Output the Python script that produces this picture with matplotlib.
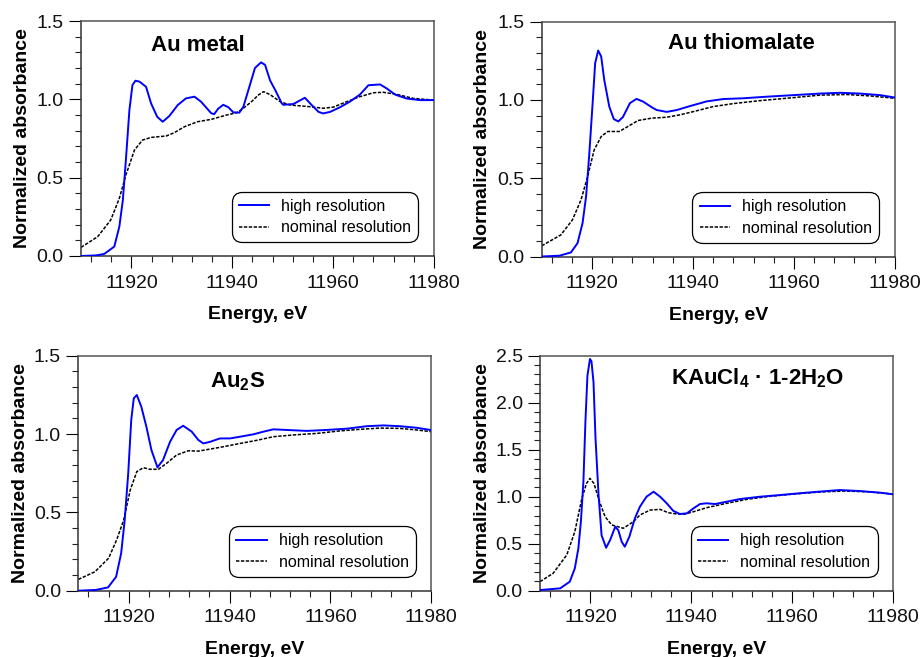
import matplotlib
matplotlib.use("Agg")
import matplotlib.pyplot as plt
from matplotlib.ticker import MultipleLocator

plt.rcParams['font.family'] = ['Liberation Sans', 'DejaVu Sans']
plt.rcParams['mathtext.fontset'] = 'custom'
plt.rcParams['mathtext.rm'] = 'Liberation Sans'
plt.rcParams['mathtext.bf'] = 'Liberation Sans:bold'
plt.rcParams['mathtext.it'] = 'Liberation Sans:italic'

# ---------------- data ----------------
titles = ["Au metal", "Au thiomalate", r"Au$_\mathbf{2}$S", r"KAuCl$_\mathbf{4}$ · 1-2H$_\mathbf{2}$O"]
legend_labels = ["high resolution", "nominal resolution"]
x_label = "Energy, eV"
y_label = "Normalized absorbance"

# Au metal
metal_hi_E = [11910, 11913.0, 11914.6, 11916.6, 11917.6, 11918.3, 11918.9, 11919.6, 11920.2, 11920.8,
              11921.6, 11922.9, 11923.9, 11925.1, 11926.2, 11927.5, 11929.2, 11930.8, 11932.5, 11933.8,
              11935.8, 11936.4, 11937.2, 11938.2, 11939.2, 11940.2, 11941.4, 11942.2,
              11943.2, 11944.5, 11945.7, 11946.5, 11947.5, 11948.5, 11949.8, 11950.1, 11952.1, 11954.4,
              11955.7, 11957.1, 11958.0, 11959.4, 11961.4, 11963.3, 11965.3, 11967.0, 11969.3, 11970.6,
              11972.3, 11974.6, 11977.2, 11980]
metal_hi_mu = [0.0, 0.004, 0.013, 0.06, 0.187, 0.357, 0.613, 0.932, 1.091, 1.119,
               1.113, 1.08, 0.974, 0.889, 0.857, 0.893, 0.964, 1.006, 1.017, 0.985,
               0.912, 0.905, 0.94, 0.965, 0.95, 0.917, 0.915, 0.953,
               1.06, 1.20, 1.236, 1.22, 1.12, 1.06, 0.975, 0.965, 0.97, 1.01,
               0.965, 0.92, 0.91, 0.92, 0.95, 0.985, 1.03, 1.09, 1.095, 1.07,
               1.03, 1.005, 0.995, 0.995]
metal_nom_E = [11910, 11913.3, 11915.9, 11917.6, 11918.9, 11920.6, 11922.2, 11923.9, 11926.9, 11928.5,
               11930.5, 11933.1, 11935.8, 11938.9,
               11940.9, 11942.2, 11943.8, 11945.2, 11946.2, 11947.5, 11949.5, 11951.4, 11955.4, 11958.0,
               11960.0, 11962.7, 11965.3, 11968.0, 11969.9, 11972.6, 11975.9, 11980]
metal_nom_mu = [0.055, 0.123, 0.23, 0.368, 0.517, 0.676, 0.74, 0.757, 0.766, 0.787,
                0.825, 0.857, 0.872, 0.90,
                0.915, 0.943, 0.985, 1.028, 1.049, 1.03, 0.985, 0.964, 0.953, 0.943,
                0.95, 0.985, 1.017, 1.042, 1.045, 1.032, 1.006, 0.995]

# Au thiomalate
thio_hi_E = [11910, 11913.5, 11915.8, 11917.1, 11918.1, 11918.8, 11919.4, 11920.1, 11920.6, 11921.2,
             11921.8, 11922.4, 11923.4, 11924.3, 11925.2, 11926.1, 11927.5, 11928.8, 11930.1, 11931.8,
             11932.8, 11934.8, 11936.8, 11939.4, 11942.7, 11946.0, 11950.0, 11954.6, 11959.9,
             11965.2, 11969.2, 11973.1, 11977.1, 11980]
thio_hi_mu = [0.0, 0.005, 0.026, 0.085, 0.213, 0.383, 0.638, 0.979, 1.234, 1.315,
              1.276, 1.128, 0.957, 0.877, 0.862, 0.89, 0.979, 1.006, 0.989, 0.953,
              0.935, 0.923, 0.935, 0.96, 0.99, 1.005, 1.01, 1.02, 1.03,
              1.04, 1.045, 1.04, 1.03, 1.015]
thio_nom_E = [11910, 11913.8, 11916.1, 11917.8, 11919.1, 11920.4, 11921.8, 11923.1, 11925.4, 11927.1,
              11929.1, 11931.8, 11934.8, 11937.4, 11940.1,
              11944.0, 11948.0, 11953.3, 11959.9, 11965.2, 11970.5, 11975.1, 11980]
thio_nom_mu = [0.068, 0.138, 0.234, 0.362, 0.51, 0.68, 0.766, 0.798, 0.798, 0.83,
               0.868, 0.883, 0.889, 0.904, 0.925,
               0.957, 0.976, 0.995, 1.014, 1.03, 1.034, 1.025, 1.01]

# Au2S
au2s_hi_E = [11910, 11913.5, 11915.9, 11917.5, 11918.5, 11919.2, 11919.9, 11920.5, 11921.0, 11921.6,
             11922.5, 11923.5, 11924.5, 11925.7, 11926.8, 11928.2, 11929.5, 11930.8, 11932.5, 11933.8,
             11934.8, 11936.1, 11938.1, 11940.1, 11942.1, 11944.7, 11946.7, 11948.7, 11951.3,
             11955.3, 11959.2, 11963.2, 11967.2, 11970.5, 11973.8, 11977.1, 11980]
au2s_hi_mu = [0.0, 0.005, 0.021, 0.089, 0.239, 0.451, 0.749, 1.09, 1.228, 1.249,
              1.174, 1.047, 0.898, 0.787, 0.834, 0.951, 1.026, 1.053, 1.015, 0.962,
              0.94, 0.95, 0.972, 0.972, 0.983, 0.998, 1.015, 1.03, 1.026,
              1.02, 1.026, 1.034, 1.05, 1.055, 1.05, 1.04, 1.025]
au2s_nom_E = [11910, 11913.3, 11916.0, 11917.6, 11919.0, 11920.3, 11921.6, 11922.9, 11924.2, 11925.9,
              11927.5, 11929.5, 11931.8, 11933.8, 11938.1, 11942.1,
              11945.4, 11948.7, 11952.6, 11957.3, 11961.9, 11965.8, 11969.8, 11973.8, 11977.1, 11980]
au2s_nom_mu = [0.072, 0.121, 0.207, 0.324, 0.451, 0.643, 0.76, 0.785, 0.775, 0.775,
               0.813, 0.866, 0.893, 0.891, 0.915, 0.94,
               0.96, 0.983, 0.994, 1.004, 1.02, 1.03, 1.038, 1.036, 1.026, 1.015]

# KAuCl4 . 1-2H2O
kau_hi_E = [11910, 11914.0, 11915.9, 11916.9, 11917.6, 11918.1, 11918.6, 11919.0, 11919.4, 11919.9,
            11920.2, 11920.6, 11921.0, 11921.6, 11922.2, 11923.1, 11923.9, 11924.9, 11925.5, 11926.2,
            11926.8, 11927.7, 11928.8, 11929.8, 11931.1, 11932.5, 11933.8, 11935.1, 11936.4, 11937.7,
            11939.1, 11940.4, 11941.7, 11943.0, 11944.7, 11947.0, 11949.6, 11953.6, 11957.6, 11962.8,
            11966.8, 11969.4, 11973.4, 11977.4, 11980]
kau_hi_mu = [0.007, 0.025, 0.096, 0.238, 0.45, 0.734, 1.16, 1.80, 2.29, 2.465,
             2.44, 2.22, 1.62, 1.02, 0.59, 0.457, 0.54, 0.68, 0.645, 0.52,
             0.468, 0.574, 0.77, 0.894, 1.0, 1.053, 1.0, 0.93, 0.85, 0.816,
             0.823, 0.876, 0.922, 0.93, 0.922, 0.947, 0.975, 1.0, 1.018, 1.043,
             1.06, 1.071, 1.06, 1.043, 1.025]
kau_nom_E = [11910, 11912.6, 11915.3, 11916.9, 11918.3, 11919.2, 11919.9, 11920.7, 11921.8, 11922.9,
             11924.2, 11926.5, 11928.5, 11929.8, 11931.8, 11933.8, 11935.4, 11937.1, 11938.4, 11940.4,
             11943.0, 11947.0, 11951.0, 11954.9, 11960.2, 11965.5, 11970.1, 11974.7, 11980]
kau_nom_mu = [0.096, 0.185, 0.38, 0.628, 0.983, 1.14, 1.195, 1.14, 0.947, 0.787,
              0.70, 0.664, 0.734, 0.805, 0.858, 0.865, 0.83, 0.816, 0.812, 0.84,
              0.883, 0.93, 0.972, 1.0, 1.028, 1.05, 1.06, 1.053, 1.028]

panels = [
    (metal_hi_E, metal_hi_mu, metal_nom_E, metal_nom_mu, 1.5),
    (thio_hi_E, thio_hi_mu, thio_nom_E, thio_nom_mu, 1.5),
    (au2s_hi_E, au2s_hi_mu, au2s_nom_E, au2s_nom_mu, 1.5),
    (kau_hi_E, kau_hi_mu, kau_nom_E, kau_nom_mu, 2.5),
]

# ---------------- layout ----------------
W, H = 923, 657
fig = plt.figure(figsize=(W / 100, H / 100), dpi=100)

axes_px = [(81, 21, 434, 256), (541.7, 21.5, 894.7, 256.5),
           (78.3, 355.7, 431.3, 590.7), (540, 355.7, 893.3, 590.7)]
title_pos = [(0.33, 0.894), (0.565, 0.905), (0.452, 0.889), (0.616, 0.904)]
ylabel_x = [-0.166, -0.168, -0.164, -0.163]

spine_col = '#555555'

for i, (hE, hm, nE, nm, ymax) in enumerate(panels):
    l, t, r, b = axes_px[i]
    ax = fig.add_axes([l / W, 1 - b / H, (r - l) / W, (b - t) / H])
    ax.plot(hE, hm, color='#0000ff', lw=1.4, label=legend_labels[0], zorder=3)
    ax.plot(nE, nm, color='black', lw=1.1, dashes=(2.2, 1.0), label=legend_labels[1], zorder=2)
    ax.set_xlim(11910, 11980)
    ax.set_ylim(0, ymax)
    ax.xaxis.set_major_locator(MultipleLocator(20))
    ax.xaxis.set_minor_locator(MultipleLocator(4))
    ax.yaxis.set_major_locator(MultipleLocator(0.5))
    ax.yaxis.set_minor_locator(MultipleLocator(0.1))
    ax.yaxis.set_major_formatter(plt.FormatStrFormatter('%.1f'))
    ax.tick_params(which='major', direction='out', length=8.5, width=0.8, labelsize=14,
                   pad=4, colors='black', labelcolor='#111111')
    ax.tick_params(which='minor', direction='out', length=4.5, width=0.8, colors='#222222')
    ax.tick_params(axis='x', which='major', pad=5)
    for s in ax.spines.values():
        s.set_color(spine_col)
        s.set_linewidth(1.1)
    ax.spines['left'].set_color('#333333')
    ax.spines['bottom'].set_color('#333333')

    ax.set_xlabel(x_label, fontsize=14, fontweight='bold')
    ax.set_ylabel(y_label, fontsize=14, fontweight='bold')
    ax.xaxis.label.set_va('center')
    ax.xaxis.set_label_coords(0.5, -0.25)
    ax.yaxis.label.set_va('center')
    ax.yaxis.set_label_coords(ylabel_x[i], 0.5)

    ax.text(title_pos[i][0], title_pos[i][1], titles[i], transform=ax.transAxes,
            fontsize=16, fontweight='bold', ha='center', va='center')

    leg = ax.legend(loc='lower left', bbox_to_anchor=(0.427, 0.058), borderaxespad=0,
                    fontsize=11.5, frameon=True, fancybox=True, handlelength=1.9,
                    handletextpad=0.75, borderpad=0.45, labelspacing=0.4)
    fr = leg.get_frame()
    fr.set_edgecolor('black')
    fr.set_linewidth(0.9)
    fr.set_alpha(1)
    fr.set_boxstyle('round,pad=0,rounding_size=0.65')

fig.savefig('out.png', dpi=100)
